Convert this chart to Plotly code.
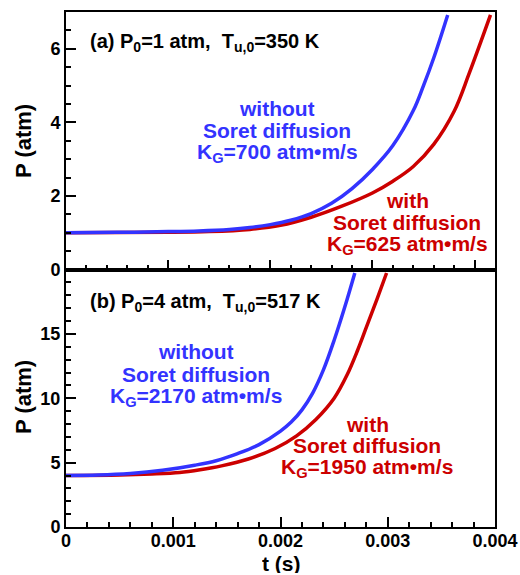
import plotly.graph_objects as go

# ---------------- data ----------------
# Panel (a): P0 = 1 atm, Tu0 = 350 K
t_a_without = [0.0, 0.0005, 0.0010, 0.0013, 0.0016, 0.0018, 0.0020, 0.0022, 0.0024,
               0.0026, 0.0028, 0.0030, 0.0032, 0.0034, 0.0035, 0.0036, 0.003737]
p_a_without = [1.00, 1.01, 1.03, 1.05, 1.09, 1.14, 1.22, 1.34, 1.52,
               1.80, 2.20, 2.72, 3.37, 4.32, 5.00, 5.75, 6.92]
t_a_with = [0.0, 0.0010, 0.0014, 0.0018, 0.0021, 0.0024, 0.0027, 0.0030,
            0.0032, 0.0034, 0.0036, 0.0038, 0.00395, 0.004156]
p_a_with = [1.00, 1.01, 1.03, 1.09, 1.20, 1.42, 1.72, 2.08,
            2.40, 2.80, 3.40, 4.30, 5.35, 6.92]

# Panel (b): P0 = 4 atm, Tu0 = 517 K
t_b_without = [0.0, 0.0003, 0.0006, 0.0009, 0.0012, 0.0014, 0.0016, 0.0018, 0.0020,
               0.0021, 0.0022, 0.0023, 0.0024, 0.0025, 0.0026, 0.002693]
p_b_without = [4.00, 4.03, 4.15, 4.40, 4.80, 5.15, 5.70, 6.40, 7.45,
               8.15, 9.10, 10.40, 12.20, 14.50, 17.10, 19.73]
t_b_with = [0.0, 0.0005, 0.0008, 0.00106, 0.00125, 0.00145, 0.0017, 0.00195, 0.00215,
            0.00233, 0.0025, 0.00262, 0.00272, 0.0028, 0.0029, 0.002989]
p_b_with = [4.00, 4.04, 4.12, 4.24, 4.45, 4.75, 5.28, 6.10, 7.08,
            8.35, 10.00, 11.80, 13.75, 15.50, 17.70, 19.73]

x_tickvals = [0, 0.001, 0.002, 0.003, 0.004]
x_ticktext = ["0", "0.001", "0.002", "0.003", "0.004"]
ya_tickvals = [0, 2, 4, 6]
yb_tickvals = [0, 5, 10, 15]

BLUE = "#3333ff"
RED = "#cc0000"
FONT = "Liberation Sans, Arial, sans-serif"

W, H = 520, 575
ML, MR, MT, MB = 66, 25, 12, 48
PW, PH = W - ML - MR, H - MT - MB


def px(x):
    return (x - ML) / PW


def py(y):
    return (H - MB - y) / PH


fig = go.Figure()
fig.add_trace(go.Scatter(x=t_a_with, y=p_a_with, mode="lines", line=dict(color=RED, width=3.5, shape="spline"),
                         xaxis="x", yaxis="y", showlegend=False))
fig.add_trace(go.Scatter(x=t_a_without, y=p_a_without, mode="lines", line=dict(color=BLUE, width=3.5, shape="spline"),
                         xaxis="x", yaxis="y", showlegend=False))
fig.add_trace(go.Scatter(x=t_b_with, y=p_b_with, mode="lines", line=dict(color=RED, width=3.5, shape="spline"),
                         xaxis="x2", yaxis="y2", showlegend=False))
fig.add_trace(go.Scatter(x=t_b_without, y=p_b_without, mode="lines", line=dict(color=BLUE, width=3.5, shape="spline"),
                         xaxis="x2", yaxis="y2", showlegend=False))

tickfont = dict(family=FONT, size=18, color="black", weight="bold")
common = dict(showgrid=False, zeroline=False, showline=True, linecolor="black", linewidth=2,
              mirror=True, ticks="inside", tickcolor="black", tickwidth=2, ticklen=10,
              tickfont=tickfont, automargin=False)

fig.update_layout(
    width=W, height=H,
    margin=dict(l=ML, r=MR, t=MT, b=MB, autoexpand=False),
    paper_bgcolor="white", plot_bgcolor="white",
    font=dict(family=FONT, color="black", weight="bold"),
    xaxis=dict(domain=[0, 1], anchor="y", range=[0, 0.0042], tickvals=x_tickvals,
               showticklabels=False,
               minor=dict(dtick=0.0002, ticklen=5, tickwidth=1.5, tickcolor="black", ticks="inside"),
               **common),
    yaxis=dict(domain=[0.5, 1], anchor="x", range=[0, 7], tickvals=ya_tickvals,
               ticklabelstandoff=0,
               minor=dict(dtick=0.5, ticklen=5, tickwidth=1.5, tickcolor="black", ticks="inside"),
               **common),
    xaxis2=dict(domain=[0, 1], anchor="y2", range=[0, 0.004], tickvals=x_tickvals, ticktext=x_ticktext,
                ticklabelstandoff=-4,
                minor=dict(dtick=0.0002, ticklen=5, tickwidth=1.5, tickcolor="black", ticks="inside"),
                **common),
    yaxis2=dict(domain=[0, 0.5], anchor="x2", range=[0, 20], tickvals=yb_tickvals,
                ticklabelstandoff=0,
                minor=dict(dtick=1, ticklen=5, tickwidth=1.5, tickcolor="black", ticks="inside"),
                **common),
)

# axis titles
fig.add_annotation(text="t (s)", x=px(281), y=py(563), xref="paper", yref="paper",
                   xanchor="center", yanchor="middle", showarrow=False, height=20,
                   font=dict(family=FONT, size=21, color="black", weight="bold"))
for yc in (141, 397):
    fig.add_annotation(text="P (atm)", x=px(23), y=py(yc), xref="paper", yref="paper",
                       xanchor="center", yanchor="middle", showarrow=False, textangle=-90,
                       font=dict(family=FONT, size=22, color="black", weight="bold"))

NB = "\u00a0"
# text, x px, y px, anchor, colour, size, box height
labels = [
    ("(a) P<sub>0</sub>=1 atm," + NB + " T<sub>u,0</sub>=350 K", 88, 43, "left", "black", 20, None),
    ("(b) P<sub>0</sub>=4 atm," + NB + " T<sub>u,0</sub>=517 K", 88, 302, "left", "black", 20, None),
    ("without", 277, 108, "center", BLUE, 21, 17),
    ("Soret diffusion", 277, 130, "center", BLUE, 21, 17),
    ("K<sub>G</sub>=700 atm•m/s", 277, 153, "center", BLUE, 21, 22),
    ("with", 407, 200, "center", RED, 21, 17),
    ("Soret diffusion", 407, 222, "center", RED, 21, 17),
    ("K<sub>G</sub>=625 atm•m/s", 407, 245, "center", RED, 21, 22),
    ("without", 196, 352, "center", BLUE, 21, 17),
    ("Soret diffusion", 196, 374, "center", BLUE, 21, 17),
    ("K<sub>G</sub>=2170 atm•m/s", 196, 397, "center", BLUE, 21, 22),
    ("with", 367, 424, "center", RED, 21, 17),
    ("Soret diffusion", 367, 445, "center", RED, 21, 17),
    ("K<sub>G</sub>=1950 atm•m/s", 367, 468, "center", RED, 21, 22),
]
for text, x, y, anchor, color, size, h in labels:
    kw = dict(height=h) if h else {}
    fig.add_annotation(text=text, x=px(x), y=py(y), xref="paper", yref="paper",
                       xanchor=anchor, yanchor="middle", showarrow=False,
                       font=dict(family=FONT, size=size, color=color, weight="bold"), **kw)

fig.write_html("out.html")
